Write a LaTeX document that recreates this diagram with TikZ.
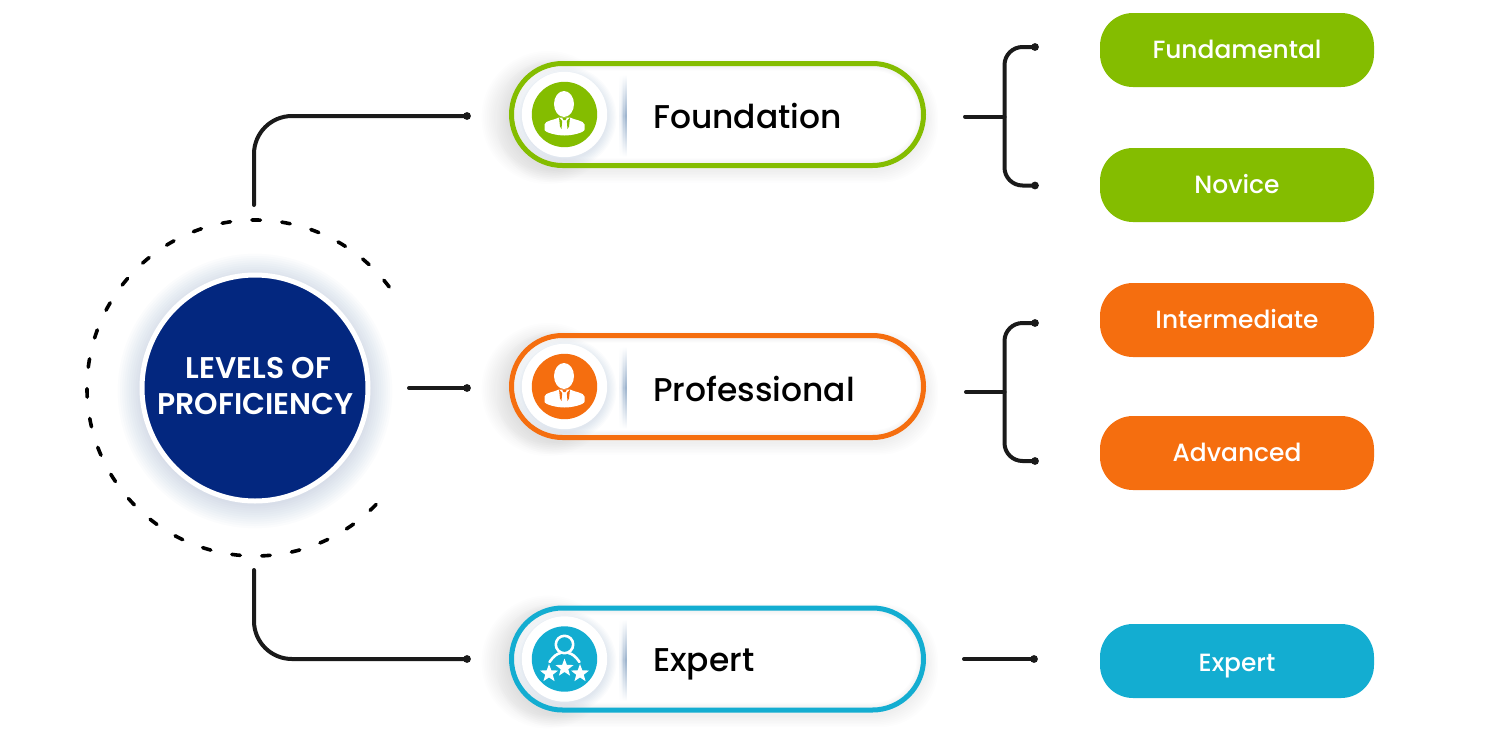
\documentclass[tikz,border=0pt]{standalone}
\usepackage{fontspec}
\setmainfont{Poppins}
\newfontfamily\medfont{Poppins Medium}
\newfontfamily\semifont{Poppins SemiBold}
\usetikzlibrary{shapes.geometric}
\definecolor{lvlgreen}{HTML}{84BD00}
\definecolor{lvlorange}{HTML}{F56E0F}
\definecolor{lvlblue}{HTML}{13ADD1}
\definecolor{corenavy}{HTML}{03277F}
\definecolor{inkblack}{HTML}{1A1A1A}
\definecolor{haze}{HTML}{5079A8}
\definecolor{softgrey}{HTML}{6E7680}
\tikzset{
	wire/.style={line width=4pt, color=inkblack, line cap=round, line join=round},
	tagbox/.style={rectangle, rounded corners=33pt, minimum width=274pt, minimum height=74pt, inner sep=0pt, text=white, text height=23pt, text depth=6pt, font=\medfont\fontsize{24.9}{28}\selectfont},
	levelbox/.style={rectangle, rounded corners=51pt, draw, line width=5pt, minimum width=412pt, minimum height=102pt, inner sep=0pt},
	leveltext/.style={anchor=base west, inner sep=0pt, text=black, font=\medfont\fontsize{32.9}{38}\selectfont},
	coreline/.style={inner sep=0pt, text=white, font=\semifont\fontsize{29.9}{35}\selectfont},
	smallstar/.style={star, star points=5, star point ratio=2.4, fill=white, minimum size=19pt, inner sep=0pt}
}
\begin{document}
\begin{tikzpicture}[x=1pt, y=-1pt, line join=round, line cap=round]
	\useasboundingbox (0,0) rectangle (1500,740);
	\fill[white] (0,0) rectangle (1500,740);

	% glow round the central disc
	\foreach \k in {1,...,11} {
		\fill[haze, opacity=0.02] (255,391) circle ({113+2.2*\k});
	}
	\node[circle, draw=white, line width=5pt, fill=corenavy, minimum size=226pt, inner sep=0pt] (core) at (255,388) {};
	\node[coreline] (coretop) at (258.5,368) {LEVELS OF};
	\node[coreline] (corebot) at (255.5,404) {PROFICIENCY};
	\draw[line width=3.6pt, color=black, dash pattern=on 8.5pt off 21.5pt, line cap=round] (core.center) ++(37:168 and -168) arc[start angle=-37, end angle=-323, radius=168];

	% the three level capsules
	\foreach \y/\base/\col/\nm/\lab in {114.5/128/lvlgreen/found/Foundation, 386.5/401/lvlorange/prof/Professional, 659/671/lvlblue/expt/Expert} {
		\foreach \k in {1,...,8} {
			\fill[softgrey, opacity=0.012, rounded corners=58pt] ({509-1.5*\k},{\y-52-0.8*\k+3}) rectangle ({926+1.5*\k},{\y+53+1.5*\k+3});
		}
		\foreach \k in {1,...,8} {
			\fill[softgrey, opacity=0.01] (548,{\y+3}) circle ({52+1.8*\k});
		}
		\fill[white, rounded corners=51pt] (511,{\y-51}) rectangle (924,{\y+51});
		\begin{scope}
			\clip[rounded corners=51pt] (511,{\y-51}) rectangle (924,{\y+51});
			\foreach \k in {1,...,6} {
				\draw[softgrey, opacity=0.018, line width={2.4*\k}, rounded corners=51pt] (511,{\y-51}) rectangle (924,{\y+51});
			}
			\foreach \k in {1,...,8} {
				\fill[haze, opacity=0.018] (565,{\y+3}) circle ({41+1.3*\k});
			}
		\end{scope}
		\node[levelbox, draw=\col] (\nm) at (717.5,\y) {};
		\fill[white] (564.5,\y) circle (42.7);
		\fill[\col] (564.5,\y) circle (32.7);
		% divider, darker towards its right side
		\foreach \i/\tint in {0/8, 1/16, 2/28, 3/42, 4/55} {
			\shade[top color=white, bottom color=white, middle color=haze!\tint] ({619.5+1.4*\i},{\y-40}) rectangle ({620.9+1.4*\i},{\y+42});
		}
		\node[leveltext] (\nm text) at (653,\base) {\lab};
	}

	% person icons
	\foreach \y/\col in {114.5/lvlgreen, 386.5/lvlorange} {
		\begin{scope}[shift={(564.5,\y)}]
			\fill[white] (-0.5,-10.5) ellipse (10 and 13);
			\fill[white] (-20,15) -- (-20,10) .. controls (-19.5,6) and (-10,5.5) .. (-5.5,3) -- (5.5,3) .. controls (10,5.5) and (19.5,6) .. (20,10) -- (20,15) .. controls (20,18) and (8,21) .. (0,21) .. controls (-8,21) and (-20,18) .. (-20,15) -- cycle;
			\fill[\col] (-5.5,3) -- (-2.3,6.5) -- (-3,14.5) -- (-4.5,12) -- cycle;
			\fill[\col] (5.5,3) -- (2.3,6.5) -- (3,14.5) -- (4.5,12) -- cycle;
			\fill[\col] (-2.5,3) -- (2.5,3) -- (1,5.5) -- (-1,5.5) -- cycle;
		\end{scope}
	}

	% expert icon
	\begin{scope}[shift={(564.5,659)}]
		\draw[white, line width=2.6pt] (0,-14.5) circle (8.7);
		\draw[white, line width=2.6pt] (-15,3) .. controls (-11,-3) and (-7,-5.5) .. (-4,-6) (4,-6) .. controls (7,-5.5) and (11,-3) .. (15,3);
		\node[smallstar] (starA) at (-15.5,14.5) {};
		\node[smallstar] (starB) at (0,9) {};
		\node[smallstar] (starC) at (15.5,14.5) {};
	\end{scope}

	% right-hand tags
	\node[tagbox, fill=lvlgreen] (fundamental) at (1237,50) {Fundamental};
	\node[tagbox, fill=lvlgreen] (novice) at (1237,185) {Novice};
	\node[tagbox, fill=lvlorange] (intermediate) at (1237,320) {Intermediate};
	\node[tagbox, fill=lvlorange] (advanced) at (1237,453) {Advanced};
	\node[tagbox, fill=lvlblue, text height=27pt] (experttag) at (1237,661) {Expert};

	% connector ends
	\coordinate (coreN) at (254,205);
	\coordinate (coreE) at (409,388);
	\coordinate (coreS) at (254,570);
	\coordinate (inF) at (467,116);
	\coordinate (inP) at (467,388);
	\coordinate (inE) at (467,659);
	\coordinate (stemF) at (965,116.5);
	\coordinate (spineF) at (1004.5,116.5);
	\coordinate (topF) at (1035,47);
	\coordinate (botF) at (1035,185.5);
	\coordinate (stemP) at (966,392);
	\coordinate (spineP) at (1004.5,392);
	\coordinate (topP) at (1035,323);
	\coordinate (botP) at (1035,461);
	\coordinate (stemE) at (964,659);
	\coordinate (endE) at (1034,659);

	\draw[wire, rounded corners=38pt] (coreN) |- (inF);
	\draw[wire] (coreE) -- (inP);
	\draw[wire, rounded corners=38pt] (coreS) |- (inE);
	\draw[wire] (stemF) -- (spineF);
	\draw[wire, rounded corners=18pt] (topF) -| (spineF) |- (botF);
	\draw[wire] (stemP) -- (spineP);
	\draw[wire, rounded corners=18pt] (topP) -| (spineP) |- (botP);
	\draw[wire] (stemE) -- (endE);

	\foreach \p in {inF,inP,inE,topF,botF,topP,botP,endE} {
		\fill[inkblack] (\p) circle (3.9);
	}
\end{tikzpicture}
\end{document}
